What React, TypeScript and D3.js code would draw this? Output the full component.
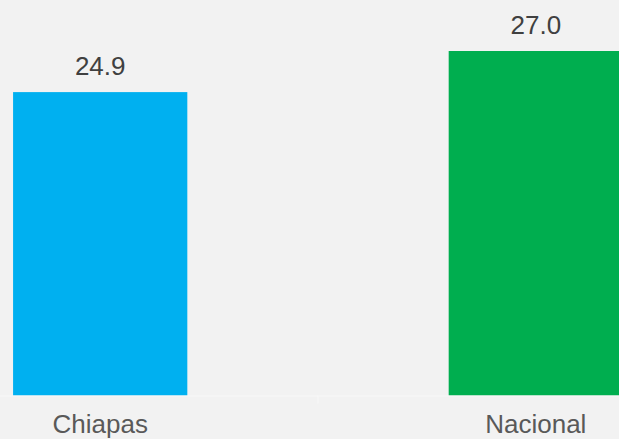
import React, { useEffect, useRef } from "react";
import * as d3 from "d3";

const categories = ["Chiapas", "Nacional"];
const values = [24.9, 27.0];
const colors = ["#00b0f0", "#00ae4f"];

const W = 619;
const H = 439;

const App = () => {
  const ref = useRef<SVGSVGElement>(null);

  useEffect(() => {
    const svg = d3.select(ref.current);
    svg.selectAll("*").remove();

    const baseY = 395.5;

    // scales
    const x = d3.scaleBand<string>()
      .domain(categories)
      .range([0, 636])
      .paddingInner(0.6)
      .paddingOuter(0.03);

    const y = d3.scaleLinear()
      .domain([9.4, 27])
      .range([baseY, 51]);

    svg.append("rect")
      .attr("width", W)
      .attr("height", H)
      .attr("fill", "#f2f2f2");

    // bars
    svg.selectAll(".bar")
      .data(values)
      .join("rect")
      .attr("class", "bar")
      .attr("x", (d, i) => x(categories[i])!)
      .attr("y", d => y(d))
      .attr("width", x.bandwidth())
      .attr("height", d => baseY - y(d))
      .attr("fill", (d, i) => colors[i]);

    // axis line + divider tick
    svg.append("line")
      .attr("x1", 0)
      .attr("x2", W)
      .attr("y1", baseY + 0.5)
      .attr("y2", baseY + 0.5)
      .attr("stroke", "#f8f8f8")
      .attr("stroke-width", 1);

    const mid = (x(categories[0])! + x(categories[1])! + x.bandwidth()) / 2;
    svg.append("line")
      .attr("x1", mid)
      .attr("x2", mid)
      .attr("y1", baseY)
      .attr("y2", baseY + 8)
      .attr("stroke", "#f8f8f8")
      .attr("stroke-width", 1);

    // value labels
    svg.selectAll(".val")
      .data(values)
      .join("text")
      .attr("class", "val")
      .attr("x", (d, i) => x(categories[i])! + x.bandwidth() / 2)
      .attr("y", d => y(d) - 17)
      .attr("text-anchor", "middle")
      .attr("font-family", "Liberation Sans, Arial, sans-serif")
      .attr("font-size", 26)
      .attr("fill", "#404040")
      .text(d => d.toFixed(1));

    // category labels
    svg.selectAll(".cat")
      .data(categories)
      .join("text")
      .attr("class", "cat")
      .attr("x", d => x(d)! + x.bandwidth() / 2)
      .attr("y", 433)
      .attr("text-anchor", "middle")
      .attr("font-family", "Liberation Sans, Arial, sans-serif")
      .attr("font-size", 26)
      .attr("fill", "#595959")
      .text(d => d);
  }, []);

  return (
    <svg
      ref={ref}
      width={W}
      height={H}
      style={{ position: "fixed", left: 0, top: 0, overflow: "hidden" }}
    />
  );
};

export default App;
